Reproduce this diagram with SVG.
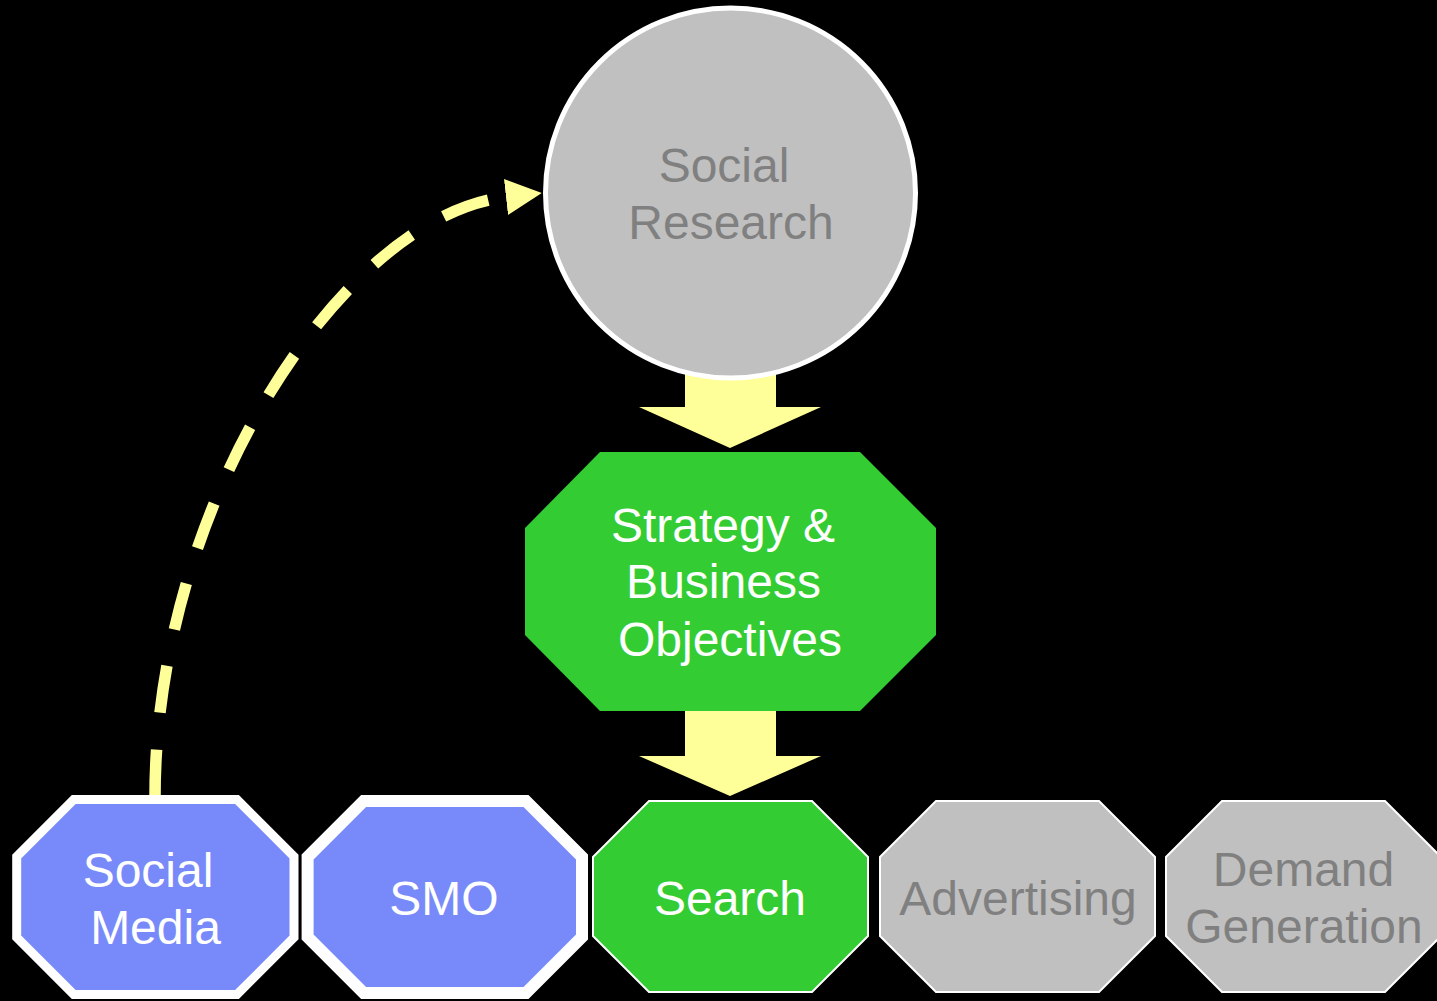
<svg xmlns="http://www.w3.org/2000/svg" width="1437" height="1001" viewBox="0 0 1437 1001">
<style>
text{font-family:"Liberation Sans",Arial,sans-serif;font-size:48px;text-anchor:middle}
.w{fill:#FFFFFF}
.g{fill:#808080}
.blk{fill:#FFFF99}
.grn{fill:#33CC33}
.gry{fill:#C0C0C0;stroke:#FFFFFF;stroke-width:2}
.blu{fill:#788AFA;stroke:#FFFFFF}
</style>
<defs>
<marker id="ah" viewBox="0 0 36 36" refX="0" refY="18" markerWidth="36" markerHeight="36" markerUnits="userSpaceOnUse" orient="auto">
<path d="M0,0 L36,18 L0,36 Z" fill="#FFFF99"/>
</marker>
</defs>
<rect x="0" y="0" width="1437" height="1001" fill="#000000"/>
<g id="connectors">
<polygon class="blk" points="685,360 776,360 776,407 821,407 730,448 639,407 685,407"/>
<polygon class="blk" points="685,705 776,705 776,756 821,756 730,796 639,756 685,756"/>
<path d="M155,797 C155,500 345,215 506,197" fill="none" stroke="#FFFF99" stroke-width="11.5" stroke-dasharray="47.5 37" marker-end="url(#ah)"/>
</g>
<g id="social-research">
<circle cx="730.5" cy="193" r="185" fill="#C0C0C0" stroke="#FFFFFF" stroke-width="5"/>
<text class="g"><tspan x="724" y="182">Social</tspan><tspan x="731" y="239">Research</tspan></text>
</g>
<g id="strategy">
<polygon class="grn" points="600,452 860,452 936,528 936,635 860,711 600,711 525,635 525,528"/>
<text class="w"><tspan x="723" y="542">Strategy &amp;</tspan><tspan x="723.5" y="598">Business</tspan><tspan x="730" y="656">Objectives</tspan></text>
</g>
<g id="social-media">
<polygon class="blu" stroke-width="9" points="73.7,799.5 237,799.5 294,856.5 294,937.5 237,994.5 73.7,994.5 16.7,937.5 16.7,856.5"/>
<text class="w"><tspan x="148" y="887">Social</tspan><tspan x="155.5" y="944">Media</tspan></text>
</g>
<g id="smo">
<polygon class="blu" stroke-width="12" points="363.6,801 526,801 582,857 582,937 526,993 363.6,993 307.6,937 307.6,857"/>
<text class="w" x="444" y="915">SMO</text>
</g>
<g id="search">
<polygon class="grn" stroke="#FFFFFF" stroke-width="2" points="649,801 812,801 868,857 868,936 812,992 649,992 593,936 593,857"/>
<text class="w" x="730" y="915">Search</text>
</g>
<g id="advertising">
<polygon class="gry" points="936,801 1099,801 1155,857 1155,936 1099,992 936,992 880,936 880,857"/>
<text class="g" x="1018" y="915">Advertising</text>
</g>
<g id="demand-generation">
<polygon class="gry" points="1222,801 1385,801 1441,857 1441,936 1385,992 1222,992 1166,936 1166,857"/>
<text class="g"><tspan x="1303.5" y="886">Demand</tspan><tspan x="1304" y="943">Generation</tspan></text>
</g>
</svg>
